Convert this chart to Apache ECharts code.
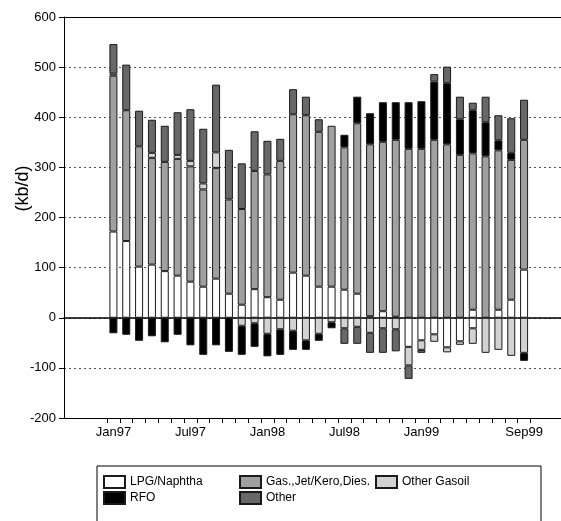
<!DOCTYPE html>
<html>
<head>
<meta charset="utf-8">
<script src="https://cdn.jsdelivr.net/npm/echarts@6/dist/echarts.min.js"></script>
<style>
  html, body { margin: 0; padding: 0; background: #fff; }
  #chart { width: 561px; height: 521px; }
</style>
</head>
<body>
<div id="chart"></div>
<script>
// months Jan97 .. Sep99
const months = ['Jan97','Feb97','Mar97','Apr97','May97','Jun97','Jul97','Aug97','Sep97','Oct97','Nov97','Dec97',
  'Jan98','Feb98','Mar98','Apr98','May98','Jun98','Jul98','Aug98','Sep98','Oct98','Nov98','Dec98',
  'Jan99','Feb99','Mar99','Apr99','May99','Jun99','Jul99','Aug99','Sep99'];
const shownLabels = ['Jan97','Jul97','Jan98','Jul98','Jan99','Sep99'];
const yTicks = { min: -200, max: 600, step: 100 };

// positive side (kb/d)
const lpgPos   = [172,153,102,106,93,84,72,62,78,48,26,57,41,36,90,84,62,62,56,48,3,13,2,0,0,0,0,0,16,0,16,36,96];
const gasPos   = [311,261,240,213,218,233,230,194,221,188,191,236,245,277,316,320,309,321,284,340,343,338,353,337,337,355,346,325,312,322,318,279,259];
const ogPos    = [4,0,0,10,0,8,11,12,31,0,0,0,0,0,0,0,0,0,0,0,0,0,0,0,0,0,0,0,0,0,0,0,0];
const rfoPos   = [0,0,0,0,0,0,0,0,0,0,0,0,0,0,0,0,0,0,25,53,62,79,75,93,95,116,122,71,86,68,20,14,0];
const otherPos = [59,91,71,66,72,85,103,109,135,99,91,79,67,44,50,37,25,0,0,0,0,0,0,0,0,15,33,45,15,51,50,69,80];

// negative side (kb/d)
const lpgNeg   = [0,0,0,0,0,0,0,0,0,0,0,0,0,0,0,0,0,0,0,0,0,0,0,-58,-45,-33,-59,-47,-21,0,0,0,0];
const ogNeg    = [0,0,0,0,0,0,0,0,0,0,-16,-11,-32,-23,-26,-45,-32,-9,-21,-18,-30,-21,-23,-37,-19,-15,-10,-7,-31,-70,-64,-76,-70];
const rfoNeg   = [-31,-34,-46,-37,-49,-34,-55,-74,-55,-68,-58,-47,-45,-51,-38,-19,-14,-12,0,0,0,0,0,0,0,0,0,0,0,0,0,0,-16];
const otherNeg = [0,0,0,0,0,0,0,0,0,0,0,0,0,0,0,0,0,0,-31,-34,-40,-49,-44,-27,-6,0,0,0,0,0,0,0,0];

const names = ['LPG/Naphtha', 'Gas.,Jet/Kero,Dies.', 'Other Gasoil', 'RFO', 'Other'];
const colors = ['#ffffff', '#a0a0a0', '#d2d2d2', '#000000', '#686868'];

function barSeries(i, data) {
  return {
    name: names[i],
    type: 'bar',
    xAxisIndex: 3,
    yAxisIndex: 1,
    stack: 'net',
    barWidth: 8,
    data: data.map(v => v === 0 ? '-' : v),
    itemStyle: { color: colors[i], borderColor: '#1a1a1a', borderWidth: 1 }
  };
}

const fontFam = '"Liberation Sans Narrow", "Liberation Sans", Arial, sans-serif';

let myChart = echarts.init(document.getElementById('chart'));
let option = {
  animation: false,
  grid: [
    { left: 64, right: 0, top: 17, bottom: 103, outerBoundsMode: 'none' },   // frame
    { left: 107, right: 30.5, top: 17, bottom: 103, outerBoundsMode: 'none' } // bars
  ],
  xAxis: [
    { gridIndex: 0, type: 'value', min: 0, max: 1, position: 'bottom',
      axisLine: { show: true, onZero: false, lineStyle: { color: '#000', width: 1 } },
      axisTick: { show: false }, axisLabel: { show: false }, splitLine: { show: false } },
    { gridIndex: 0, type: 'value', min: 0, max: 1, position: 'top',
      axisLine: { show: true, onZero: false, lineStyle: { color: '#000', width: 1 } },
      axisTick: { show: false }, axisLabel: { show: false }, splitLine: { show: false } },
    { gridIndex: 0, type: 'value', min: 0, max: 1, position: 'bottom',
      axisLine: { show: true, onZero: true, lineStyle: { color: '#000', width: 1.5 } },
      axisTick: { show: false }, axisLabel: { show: false }, splitLine: { show: false } },
    { gridIndex: 1, type: 'category', data: months, boundaryGap: true, position: 'bottom',
      axisLine: { show: false, onZero: false },
      axisTick: { show: true, interval: 0, length: 5, lineStyle: { color: '#000' } },
      axisLabel: {
        interval: (idx, val) => shownLabels.indexOf(val) >= 0,
        margin: 8, color: '#000', fontFamily: fontFam, fontSize: 13
      },
      splitLine: { show: false } }
  ],
  yAxis: [
    { gridIndex: 0, type: 'value', min: yTicks.min, max: yTicks.max, interval: yTicks.step,
      name: '(kb/d)', nameLocation: 'middle', nameRotate: 90, nameGap: 32, nameMoveOverlap: false,
      nameTextStyle: { fontFamily: 'Liberation Sans, Arial, sans-serif', fontSize: 18, color: '#000', padding: [0, 0, 0, 58] },
      axisLine: { show: true, lineStyle: { color: '#000', width: 1 } },
      axisTick: { show: true, length: 5, lineStyle: { color: '#000' } },
      axisLabel: { margin: 8, color: '#000', fontFamily: fontFam, fontSize: 13 },
      splitLine: { show: true, lineStyle: { color: '#555', type: [2, 3], width: 1 } } },
    { gridIndex: 1, type: 'value', min: yTicks.min, max: yTicks.max, show: false }
  ],
  legend: {
    left: 97, top: 466, width: 450,
    orient: 'horizontal',
    itemWidth: 21, itemHeight: 12, itemGap: 0,
    padding: [8, 30, 20, 6],
    borderColor: '#000', borderWidth: 1,
    icon: 'rect',
    selectedMode: false,
    data: [names[0], names[1], names[2], '', names[3], names[4]],
    textStyle: { fontFamily: 'Liberation Sans, Arial, sans-serif', fontSize: 12, color: '#000', width: 109, lineHeight: 16 }
  },
  series: [
    barSeries(0, lpgPos), barSeries(1, gasPos), barSeries(2, ogPos), barSeries(3, rfoPos), barSeries(4, otherPos),
    barSeries(0, lpgNeg), barSeries(2, ogNeg), barSeries(3, rfoNeg), barSeries(4, otherNeg)
  ]
};
myChart.setOption(option);
</script>
</body>
</html>
